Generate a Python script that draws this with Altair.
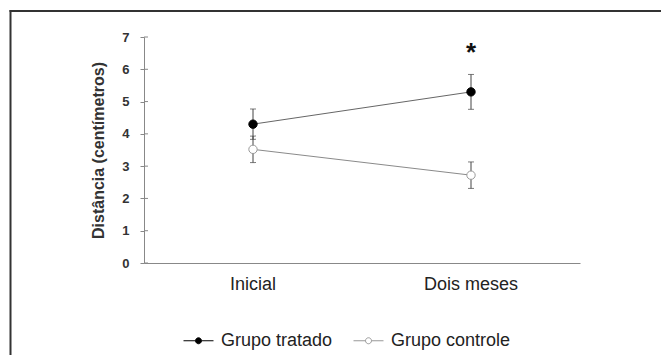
import altair as alt
import pandas as pd

# Measurement phases and groups
fases = ["Inicial", "Dois meses"]
grupos = ["Grupo tratado", "Grupo controle"]

# Mean distance (cm) and error per group, per phase
media_tratado = [4.30, 5.30]
erro_tratado = [0.47, 0.54]
media_controle = [3.52, 2.72]
erro_controle = [0.41, 0.41]

# Y axis tick values
y_ticks = [0, 1, 2, 3, 4, 5, 6, 7]

# Significance marker
marca_fase = "Dois meses"
marca_y = 6.68
marca_texto = "*"

rows = []
for fase, m, e in zip(fases, media_tratado, erro_tratado):
    rows.append({"fase": fase, "grupo": grupos[0], "media": m, "lo": m - e, "hi": m + e})
for fase, m, e in zip(fases, media_controle, erro_controle):
    rows.append({"fase": fase, "grupo": grupos[1], "media": m, "lo": m - e, "hi": m + e})
df = pd.DataFrame(rows)

x_enc = alt.X(
    "fase:N",
    sort=fases,
    scale=alt.Scale(domain=fases, paddingInner=0, paddingOuter=0),
    axis=alt.Axis(
        title=None, labelAngle=0, ticks=False, tickSize=0, labelPadding=12,
        labelFontSize=18, labelColor="#222", labelFont="Liberation Sans",
        domainColor="#888", grid=False,
    ),
)
y_scale = alt.Scale(domain=[0, 7], nice=False, zero=True)
y_axis = alt.Axis(
    title="Distância (centímetros)", values=y_ticks, tickSize=4, tickColor="#888",
    domainColor="#888", labelFontSize=13, labelFontWeight="bold", labelColor="#333",
    labelFont="Liberation Sans", labelPadding=11, labelOverlap=False,
    titleFontSize=16, titleFontWeight="bold",
    titleFont="Liberation Sans", titleColor="#333", titlePadding=15, grid=False,
)

def y_enc(field):
    return alt.Y(field, scale=y_scale, axis=y_axis)

base = alt.Chart(df)

lines = base.mark_line(strokeWidth=1).encode(
    x=x_enc,
    y=y_enc("media:Q"),
    detail="grupo:N",
    color=alt.Color(
        "grupo:N", scale=alt.Scale(domain=grupos, range=["#666666", "#8a8a8a"]), legend=None
    ),
)

bars = base.mark_rule(color="#444", strokeWidth=1).encode(
    x=alt.X("fase:N", sort=fases), y=y_enc("lo:Q"), y2="hi:Q"
)
caps_hi = base.mark_tick(color="#444", thickness=1, size=6).encode(
    x=alt.X("fase:N", sort=fases), y=y_enc("hi:Q")
)
caps_lo = base.mark_tick(color="#444", thickness=1, size=6).encode(
    x=alt.X("fase:N", sort=fases), y=y_enc("lo:Q")
)

legend_symbol = (
    "M-1,0 L-0.2,0 M0.2,0 L1,0 "
    "M0.2,0 A0.2,0.2 0 1,1 -0.2,0 A0.2,0.2 0 1,1 0.2,0 Z"
)

points = base.mark_point(shape="circle", size=70, strokeWidth=1, opacity=1, fillOpacity=1).encode(
    x=alt.X("fase:N", sort=fases),
    y=y_enc("media:Q"),
    stroke=alt.Stroke(
        "grupo:N",
        scale=alt.Scale(domain=grupos, range=["#000000", "#999999"]),
        title=None,
    ),
    fill=alt.Fill(
        "grupo:N",
        scale=alt.Scale(domain=grupos, range=["#000000", "#ffffff"]),
        title=None,
    ),
)

inner_ticks = alt.Chart(pd.DataFrame({"v": y_ticks})).mark_rule(color="#888").encode(
    y=y_enc("v:Q"), x=alt.value(0), x2=alt.value(4)
)

star = alt.Chart(
    pd.DataFrame({"fase": [marca_fase], "y": [marca_y], "t": [marca_texto]})
).mark_text(fontSize=26, fontWeight="bold", font="Liberation Sans", color="#111",
            baseline="middle", dy=6).encode(
    x=alt.X("fase:N", sort=fases), y=y_enc("y:Q"), text="t:N"
)

# Outer frame: left and top edges of a box that runs past the page
frame_src = pd.DataFrame({"a": [0]})
frame_left = alt.Chart(frame_src).mark_rule(color="#333", strokeWidth=2).encode(
    x=alt.value(-133.5), y=alt.value(-27), y2=alt.value(400)
)
frame_top = alt.Chart(frame_src).mark_rule(color="#333", strokeWidth=2).encode(
    x=alt.value(-134.5), x2=alt.value(600), y=alt.value(-26)
)

chart = (
    alt.layer(frame_left, frame_top, lines, bars, caps_hi, caps_lo, inner_ticks, points, star)
    .resolve_scale(color="independent")
    .properties(
        width=436, height=226, autosize=alt.AutoSizeParams(type="none"),
        padding={"left": 144, "top": 37, "right": 81, "bottom": 92},
        background="white",
    )
    .configure_view(stroke=None)
    .configure_legend(
        orient="none", legendX=39, legendY=288, direction="horizontal",
        symbolType=legend_symbol, symbolSize=900, symbolStrokeWidth=1,
        labelFontSize=18, labelFont="Liberation Sans", labelColor="#222",
        labelOffset=7, columnPadding=18, padding=0,
    )
)

chart.save("out.html", embed_options={"renderer": "svg", "actions": False})
